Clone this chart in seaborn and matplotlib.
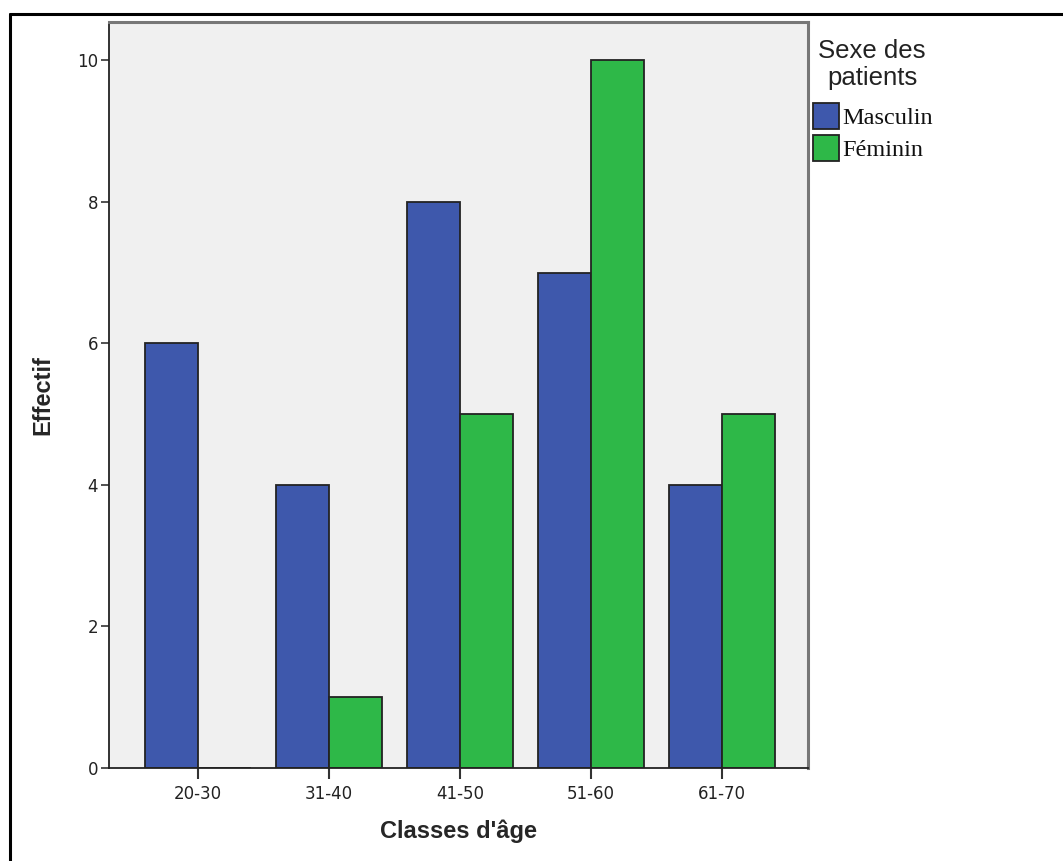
import matplotlib
matplotlib.use("Agg")
import matplotlib.pyplot as plt
import seaborn as sns
import pandas as pd
from matplotlib.lines import Line2D
from matplotlib.patches import Patch

categories = ["20-30", "31-40", "41-50", "51-60", "61-70"]
masculin = [6, 4, 8, 7, 4]
feminin = [0, 1, 5, 10, 5]
series = ["Masculin", "Féminin"]
colors = ["#3E58AC", "#2EB848"]
yticks = [0, 2, 4, 6, 8, 10]

df = pd.DataFrame({
    "Classe": categories * 2,
    "Effectif": masculin + feminin,
    "Sexe": [series[0]] * len(categories) + [series[1]] * len(categories),
})

sns.set_style("white")
W, H = 1063, 861
fig = plt.figure(figsize=(W / 100, H / 100), dpi=100)
ax = fig.add_axes([109 / W, 1 - 768 / H, (808 - 109) / W, (768 - 22) / H])
ax.set_facecolor("#F0F0F0")

sns.barplot(data=df, x="Classe", y="Effectif", hue="Sexe", order=categories,
            hue_order=series, palette=colors, width=0.81, ax=ax,
            edgecolor="#222222", linewidth=1.3, legend=False, saturation=1)

ax.set_xlim(-0.68, 4.66)
ax.set_ylim(0, 10.54)
ax.set_yticks(yticks)
ax.set_yticklabels([str(v) for v in yticks])

ax.tick_params(axis="both", which="both", direction="out", color="#333333",
               labelsize=12, labelcolor="#222222")
ax.tick_params(axis="y", length=6, width=1.2, pad=2, left=True)
ax.tick_params(axis="x", length=8, width=1.5, pad=4, bottom=True)
for lab in ax.get_xticklabels() + ax.get_yticklabels():
    lab.set_fontfamily("DejaVu Sans")

for side in ["left", "bottom"]:
    ax.spines[side].set_color("#222222")
    ax.spines[side].set_linewidth(1.3)
for side in ["top", "right"]:
    ax.spines[side].set_visible(True)
    ax.spines[side].set_color("#777777")
    ax.spines[side].set_linewidth(2.2)

ax.set_xlabel("Classes d'âge", fontsize=17, fontweight="bold",
              fontfamily="Liberation Sans", labelpad=12)
ax.set_ylabel("Effectif", fontsize=17, fontweight="bold",
              fontfamily="Liberation Sans")
ax.yaxis.set_label_coords(-0.078, 0.5)

# legend title
fig.text(872 / W, 1 - 39 / H, "Sexe des\npatients", ha="center", va="top",
         multialignment="center", linespacing=1.15, color="#222222",
         fontfamily="Liberation Sans", fontsize=18.5)

handles = [Patch(facecolor=c, edgecolor="#222222", linewidth=1.3) for c in colors]
leg = fig.legend(handles, series, loc="upper left",
                 bbox_to_anchor=(813 / W, 1 - 103 / H), frameon=False,
                 prop={"family": "Liberation Serif", "size": 17.5},
                 handlelength=1.05, handleheight=1.25, handletextpad=0.15,
                 labelspacing=0.25, borderpad=0, borderaxespad=0)
for t in leg.get_texts():
    t.set_color("#111111")

# outer frame (left and top edges visible)
fig.add_artist(Line2D([9.5 / W, 9.5 / W], [0, 1 - 13.5 / H], transform=fig.transFigure,
                      color="black", linewidth=2.2))
fig.add_artist(Line2D([9.5 / W, 1], [1 - 13.5 / H, 1 - 13.5 / H], transform=fig.transFigure,
                      color="black", linewidth=2.2))

fig.savefig("out.png", dpi=100, facecolor="white")
